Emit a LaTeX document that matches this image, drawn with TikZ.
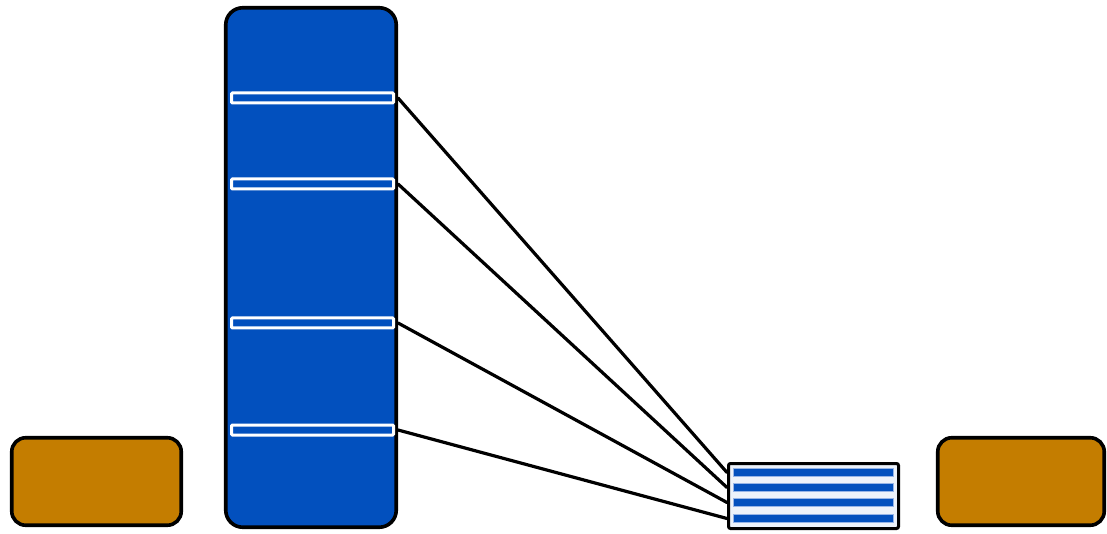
\documentclass[tikz,border=0pt]{standalone}
\definecolor{colblue}{RGB}{2,80,190}
\definecolor{ochre}{RGB}{196,125,0}
\definecolor{paleblue}{RGB}{236,242,250}
\definecolor{stripeedge}{RGB}{150,180,230}
\tikzset{
  column/.style={draw=black, line width=3.6pt, fill=colblue, rounded corners=17pt, minimum width=170.5pt, minimum height=519.5pt, inner sep=0pt},
  slot/.style={draw=white, line width=3pt, fill=colblue, rounded corners=1pt, minimum width=162pt, minimum height=10pt, inner sep=0pt},
  ochrebox/.style={draw=black, line width=3.6pt, fill=ochre, rounded corners=14pt, minimum height=87.5pt, inner sep=0pt},
  smallbox/.style={draw=black, line width=3pt, fill=paleblue, rounded corners=2pt, minimum width=170pt, minimum height=65pt, inner sep=0pt},
  stripe/.style={draw=stripeedge, line width=0.8pt, fill=colblue, minimum width=160pt, minimum height=8pt, inner sep=0pt},
  link/.style={draw=black, line width=3.2pt, line cap=round}
}
\begin{document}
\begin{tikzpicture}[x=1pt,y=1pt]
\useasboundingbox (0,0) rectangle (1107,533);
\node[ochrebox, minimum width=169.5pt] (left) at (96.5,51.5) {};
\node[ochrebox, minimum width=166.5pt] (right) at (1021,51.5) {};
\node[column] (col) at (311,265.5) {};
\node[slot] (s1) at (312.5,435) {};
\node[slot] (s2) at (312.5,349) {};
\node[slot] (s3) at (312.5,210) {};
\node[slot] (s4) at (312.5,103) {};
\node[smallbox] (box) at (813.5,37) {};
\node[stripe] (t1) at (813,60.5) {};
\node[stripe] (t2) at (813,45.5) {};
\node[stripe] (t3) at (813,30.5) {};
\node[stripe] (t4) at (813,14.5) {};
\draw[link] (s1.east -| col.east) -- (t1.west -| box.west);
\draw[link] (s2.east -| col.east) -- (t2.west -| box.west);
\draw[link] (s3.east -| col.east) -- (t3.west -| box.west);
\draw[link] (s4.east -| col.east) -- (t4.west -| box.west);
\end{tikzpicture}
\end{document}
